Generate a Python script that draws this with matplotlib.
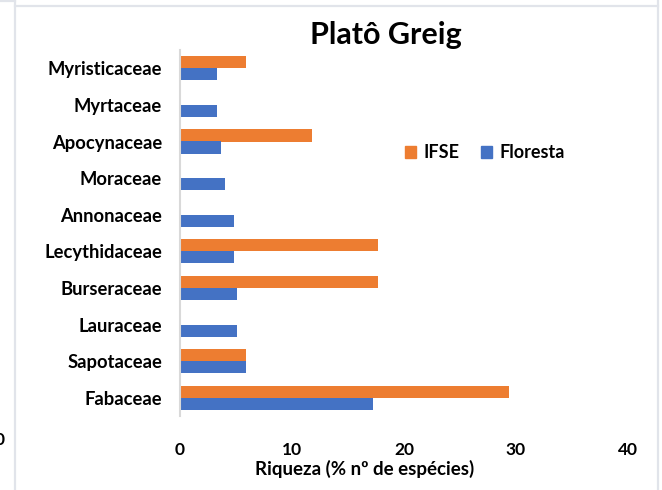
import matplotlib
matplotlib.use("Agg")
import matplotlib.pyplot as plt
from matplotlib.lines import Line2D
from matplotlib.patches import Patch
import numpy as np

categories = ["Fabaceae", "Sapotaceae", "Lauraceae", "Burseraceae", "Lecythidaceae",
              "Annonaceae", "Moraceae", "Apocynaceae", "Myrtaceae", "Myristicaceae"]
ifse = [29.41, 5.88, 0, 17.65, 17.65, 0, 0, 11.76, 0, 5.88]
floresta = [17.2, 5.88, 5.06, 5.06, 4.8, 4.8, 4.0, 3.7, 3.3, 3.3]
xticks = [0, 10, 20, 30, 40]
title = "Platô Greig"
xlabel = "Riqueza (% nº de espécies)"

W, H = 662, 490
FONT = ["Lato", "DejaVu Sans"]
plt.rcParams["font.family"] = FONT

fig = plt.figure(figsize=(W / 100, H / 100), dpi=100)

def fx(px):
    return px / W

def fy(py):
    return 1 - py / H

# axes: x 180..628, y 50..416 (pixels)
ax = fig.add_axes([fx(180), fy(416), fx(628) - fx(180), (416 - 50) / H])

orange = "#ED7D31"
blue = "#4472C4"
y = np.arange(len(categories))
h = 0.33
ax.barh(y + h / 2, ifse, height=h, color=orange, label="IFSE")
ax.barh(y - h / 2, floresta, height=h, color=blue, label="Floresta")

ax.set_xlim(0, 40)
ax.set_ylim(-0.5, len(categories) - 0.5)
ax.set_xticks(xticks)
ax.set_xticklabels([str(t) for t in xticks])
ax.set_yticks(y)
ax.set_yticklabels(categories)
for s in ["top", "right", "bottom"]:
    ax.spines[s].set_visible(False)
ax.spines["left"].set_color("#D9D9D9")
ax.spines["left"].set_linewidth(1.5)
ax.tick_params(axis="x", length=0, labelsize=12.5, pad=19)
ax.tick_params(axis="y", length=0, labelsize=13.2, pad=13)
for lab in ax.get_xticklabels() + ax.get_yticklabels():
    lab.set_fontweight("bold")
    lab.set_color("#000000")

fig.text(fx(386), fy(35), title, ha="center", va="center",
         fontsize=22, fontweight="bold")
fig.text(fx(365), fy(469), xlabel, ha="center", va="center",
         fontsize=13.5, fontweight="bold")

handles = [Patch(color=orange), Patch(color=blue)]
fig.legend(handles, ["IFSE", "Floresta"], ncol=2, loc="center",
           bbox_to_anchor=(fx(485), fy(153)), frameon=False,
           prop={"weight": "bold", "size": 13},
           handlelength=0.6, handleheight=0.6, handletextpad=0.4,
           columnspacing=1.2, borderpad=0)

# chart-area frame lines (screenshot borders)
bc = "#E1E4EA"
lw = 1.6
fig.add_artist(Line2D([fx(15), fx(15)], [0, 1], color=bc, lw=lw))
fig.add_artist(Line2D([fx(658), fx(658)], [0, 1], color=bc, lw=lw))
fig.add_artist(Line2D([fx(15), fx(658)], [fy(6), fy(6)], color=bc, lw=lw))
fig.add_artist(Line2D([0, fx(15)], [fy(1.5), fy(1.5)], color=bc, lw=lw))
fig.text(fx(5), fy(440), "0", ha="right", va="center", fontsize=12.5, fontweight="bold")

fig.savefig("out.png", dpi=100)
